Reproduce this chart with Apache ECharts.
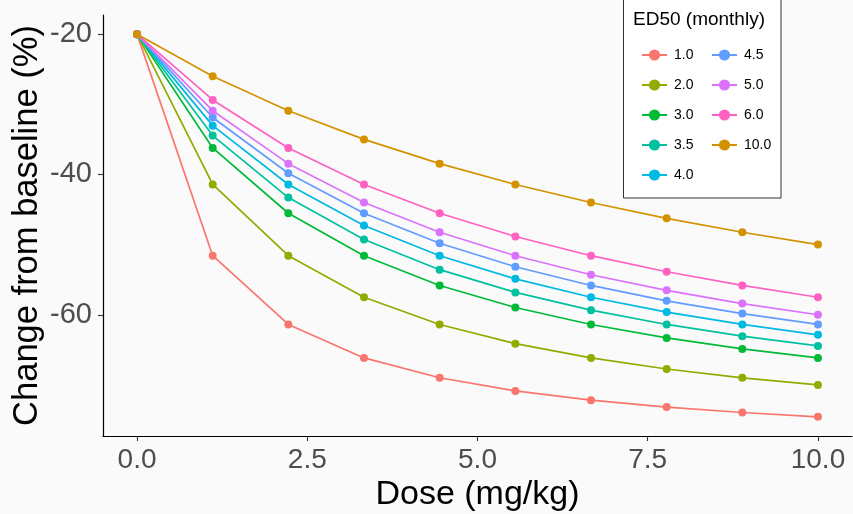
<!DOCTYPE html>
<html>
<head>
<meta charset="utf-8">
<script src="https://cdn.jsdelivr.net/npm/echarts@6/dist/echarts.min.js"></script>
<style>
  html, body { margin: 0; padding: 0; background: #fafafa; }
  #chart { width: 853px; height: 514px; }
</style>
</head>
<body>
<div id="chart"></div>
<script>
// Dose levels (mg/kg)
const doses = [0, 1.111, 2.222, 3.333, 4.444, 5.556, 6.667, 7.778, 8.889, 10];

// Change from baseline (%) for each ED50 (monthly)
const ed50_1_0  = [-20, -51.58, -61.38, -66.15, -68.98, -70.85, -72.17, -73.16, -73.93, -74.55];
const ed50_2_0  = [-20, -41.43, -51.58, -57.50, -61.38, -64.12, -66.15, -67.73, -68.98, -70.00];
const ed50_3_0  = [-20, -36.22, -45.53, -51.58, -55.82, -58.96, -61.38, -63.30, -64.86, -66.15];
const ed50_3_5  = [-20, -34.46, -43.30, -49.27, -53.57, -56.81, -59.34, -61.38, -63.05, -64.44];
const ed50_4_0  = [-20, -33.04, -41.43, -47.27, -51.58, -54.88, -57.50, -59.62, -61.38, -62.86];
const ed50_4_5  = [-20, -31.88, -39.83, -45.53, -49.81, -53.15, -55.82, -58.01, -59.83, -61.38];
const ed50_5_0  = [-20, -30.91, -38.46, -44.00, -48.24, -51.58, -54.29, -56.52, -58.40, -60.00];
const ed50_6_0  = [-20, -29.38, -36.22, -41.43, -45.53, -48.85, -51.58, -53.87, -55.82, -57.50];
const ed50_10_0 = [-20, -26.00, -30.91, -35.00, -38.46, -41.43, -44.00, -46.25, -48.24, -50.00];

const groupNames = ['1.0', '2.0', '3.0', '3.5', '4.0', '4.5', '5.0', '6.0', '10.0'];
const groupValues = [ed50_1_0, ed50_2_0, ed50_3_0, ed50_3_5, ed50_4_0, ed50_4_5, ed50_5_0, ed50_6_0, ed50_10_0];
const groupColors = ['#F8766D', '#93AA00', '#00BA38', '#00C19F', '#00B9E3', '#619CFF', '#DB72FB', '#FF61C3', '#D39200'];

// Axis tick labels
const xTicks = [0, 2.5, 5, 7.5, 10];
const yTicks = [-60, -40, -20];

// Padded axis extents (5% on each side of the data range)
const allY = groupValues.flat();
const yLo = Math.min(...allY), yHi = Math.max(...allY);
const yPad = (yHi - yLo) * 0.05;
const xLo = Math.min(...doses), xHi = Math.max(...doses);
const xPad = (xHi - xLo) * 0.05;

const series = groupNames.map((name, i) => ({
  name: name,
  type: 'line',
  data: doses.map((d, j) => [d, groupValues[i][j]]),
  symbol: 'circle',
  symbolSize: 8,
  showSymbol: true,
  color: groupColors[i],
  lineStyle: { width: 1.7, color: groupColors[i] },
  itemStyle: { color: groupColors[i] },
  emphasis: { disabled: true },
  animation: false,
  z: 2 + i
}));

const legendCommon = {
  orient: 'vertical',
  top: 43,
  itemWidth: 25,
  itemHeight: 14,
  itemGap: 16,
  selectedMode: false,
  textStyle: { fontFamily: 'Liberation Sans', fontSize: 14, lineHeight: 14, color: '#000', padding: [0, 0, 0, 2] }
};

const option = {
  backgroundColor: '#fafafa',
  animation: false,
  grid: { left: 103, right: 1, top: 15, bottom: 78, containLabel: false, outerBoundsMode: 'none' },
  xAxis: {
    type: 'value',
    min: xLo - xPad,
    max: xHi + xPad,
    name: 'Dose (mg/kg)',
    nameLocation: 'middle',
    nameGap: 42,
    nameMoveOverlap: false,
    nameTextStyle: { fontFamily: 'Liberation Sans', fontSize: 34, color: '#000' },
    axisLine: { show: true, onZero: false, lineStyle: { color: '#000', width: 1.2 } },
    axisTick: { show: true, customValues: xTicks, length: 5, lineStyle: { color: '#333', width: 1.1 } },
    axisLabel: {
      customValues: xTicks,
      formatter: v => v.toFixed(1),
      fontFamily: 'Liberation Sans', fontSize: 28, color: '#4D4D4D', margin: 10
    },
    splitLine: { show: false }
  },
  yAxis: {
    type: 'value',
    min: yLo - yPad,
    max: yHi + yPad,
    name: 'Change from baseline (%)',
    nameLocation: 'middle',
    nameRotate: 90,
    nameGap: 58,
    nameMoveOverlap: false,
    nameTextStyle: { fontFamily: 'Liberation Sans', fontSize: 34.5, color: '#000' },
    axisLine: { show: true, onZero: false, lineStyle: { color: '#000', width: 1.2 } },
    axisTick: { show: true, customValues: yTicks, length: 5, lineStyle: { color: '#333', width: 1.1 } },
    axisLabel: {
      customValues: yTicks,
      formatter: v => String(v),
      fontFamily: 'Liberation Sans', fontSize: 29, color: '#4D4D4D', margin: 11
    },
    splitLine: { show: false }
  },
  legend: [
    Object.assign({}, legendCommon, { left: 636, data: ['1.0', '2.0', '3.0', '3.5', '4.0'] }),
    Object.assign({}, legendCommon, { left: 706, data: ['4.5', '5.0', '6.0', '10.0'] })
  ],
  graphic: [
    {
      type: 'rect',
      z: 0,
      shape: { x: 623.5, y: -2, width: 157.5, height: 200 },
      style: { fill: '#ffffff', stroke: '#333', lineWidth: 1 }
    },
    {
      type: 'text',
      left: 633,
      top: 10,
      z: 10,
      style: { text: 'ED50 (monthly)', font: '19px "Liberation Sans"', fill: '#000' }
    }
  ],
  series: series
};

const chart = echarts.init(document.getElementById('chart'), null, { renderer: 'canvas' });
chart.setOption(option);
</script>
</body>
</html>
